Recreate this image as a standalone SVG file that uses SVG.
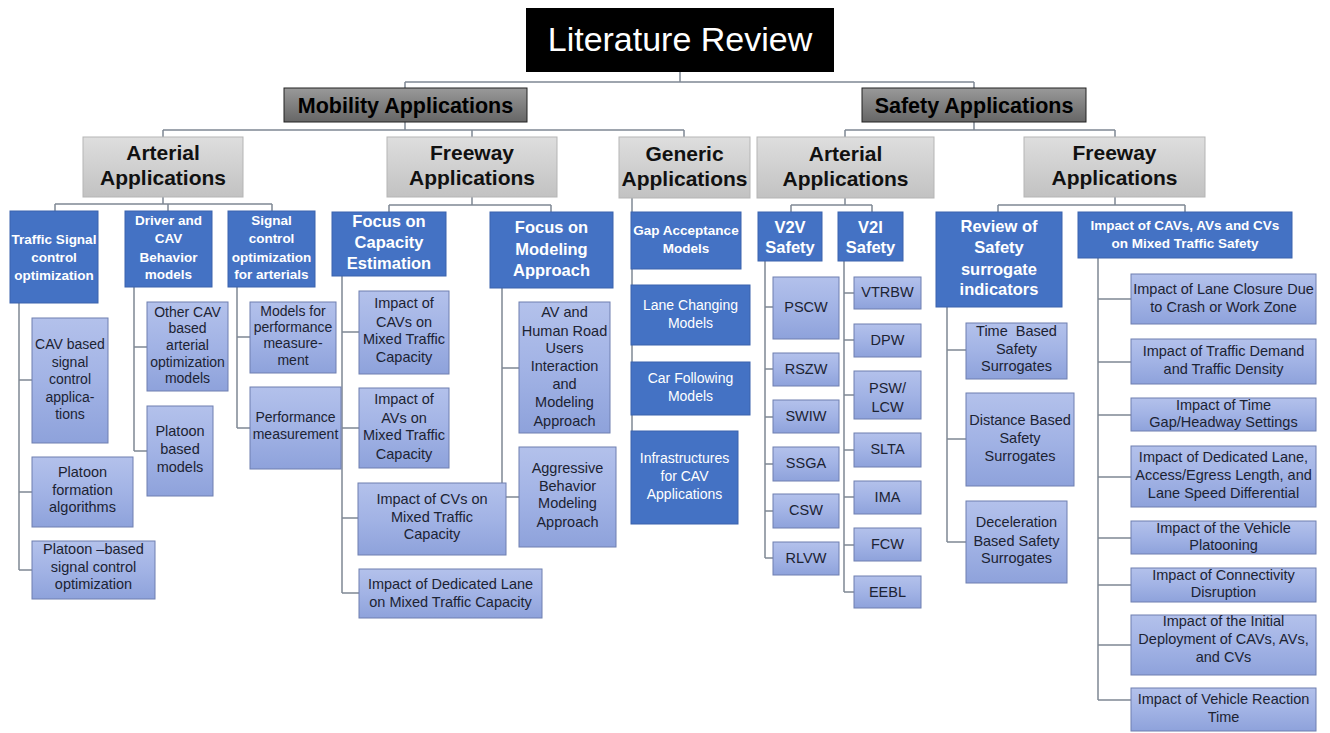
<svg xmlns="http://www.w3.org/2000/svg" width="1330" height="733" viewBox="0 0 1330 733">
<defs>
<linearGradient id="gDark" x1="0" y1="0" x2="0" y2="1"><stop offset="0" stop-color="#999999"/><stop offset="1" stop-color="#666666"/></linearGradient>
<linearGradient id="gLight" x1="0" y1="0" x2="0" y2="1"><stop offset="0" stop-color="#dedede"/><stop offset="1" stop-color="#c2c2c2"/></linearGradient>
<linearGradient id="gBlue" x1="0" y1="0" x2="0" y2="1"><stop offset="0" stop-color="#b3c1eb"/><stop offset="0.5" stop-color="#a2b3e5"/><stop offset="1" stop-color="#8ea2db"/></linearGradient>
</defs>
<style>
text{font-family:"Liberation Sans",Arial,sans-serif;text-anchor:middle}
.l0 rect{fill:#000}
.l0 text{fill:#fff;font-size:34px}
.l1 rect{fill:url(#gDark);stroke:#222;stroke-width:1}
.l1 text{fill:#000;font-size:21.5px;font-weight:bold}
.l2 rect{fill:url(#gLight);stroke:#b5b5b5;stroke-width:1}
.l2 text{fill:#111;font-size:21px;font-weight:bold}
.l3 rect{fill:#4472c4;stroke:#3a63ad;stroke-width:1}
.l3 text{fill:#fff;font-weight:bold;font-size:13.5px}
.l3 text.m{font-size:16.5px}
.l3 text.r{font-weight:normal;font-size:14px}
.l4 rect{fill:url(#gBlue);stroke:#6e7fb0;stroke-width:1}
.l4 text{fill:#1c2333;font-size:14.5px}
.l4 text.s{font-size:14px}
#connectors path{fill:none;stroke:#7f8894;stroke-width:1.5}
</style>
<rect width="1330" height="733" fill="#fff"/>
<g id="connectors">
<path d="M680,72V82M405,82H974M405,82V88M974,82V88"/>
<path d="M405,122V130M163,130H684M163,130V137M472,130V137M684,130V137"/>
<path d="M974,122V130M845,130H1115M845,130V137M1115,130V137"/>
<path d="M163,197V204M55,204H272M55,204V211M168,204V211M272,204V211"/>
<path d="M472,197V205M389,205H551M389,205V212M551,205V212"/>
<path d="M632,198V431"/>
<path d="M845,198V205M791,205H872M791,205V212M872,205V212"/>
<path d="M1115,197V205M998,205H1185M998,205V212M1185,205V212"/>
<path d="M19,303V570M19,380H32M19,492H32M19,570H32"/>
<path d="M134,287V451M134,347H147M134,451H147"/>
<path d="M237,287V428M237,337H250M237,428H250"/>
<path d="M342,276V593M342,332H359M342,428H359M342,518H358M342,593H359"/>
<path d="M502,288V497M502,368H519M502,497H519"/>
<path d="M765,261V558M765,307H773M765,369H773M765,417H773M765,464H773M765,511H773M765,558H773"/>
<path d="M844,261V592M844,293H854M844,340H854M844,395H854M844,450H854M844,497H854M844,545H854M844,592H854"/>
<path d="M947,307V542M947,350H966M947,439H966M947,542H966"/>
<path d="M1098,258V700M1098,299H1131M1098,362H1131M1098,415H1131M1098,477H1131M1098,538H1131M1098,585H1131M1098,645H1131M1098,700H1131"/>
</g>

<g id="n-title" class="l0"><rect x="526" y="8" width="308" height="64"/><text x="680" y="51">Literature Review</text></g>

<g id="n-mobility" class="l1"><rect x="284" y="88" width="243" height="34"/><text x="405.5" y="113">Mobility Applications</text></g>
<g id="n-safety" class="l1"><rect x="862" y="88" width="224" height="34"/><text x="974" y="113">Safety Applications</text></g>

<g id="n-m-arterial" class="l2"><rect x="83" y="137" width="160" height="60"/><text x="163" y="160">Arterial</text><text x="163" y="185">Applications</text></g>
<g id="n-m-freeway" class="l2"><rect x="387" y="137" width="170" height="60"/><text x="472" y="160">Freeway</text><text x="472" y="185">Applications</text></g>
<g id="n-generic" class="l2"><rect x="619" y="137" width="131" height="61"/><text x="684.5" y="161">Generic</text><text x="684.5" y="186">Applications</text></g>
<g id="n-s-arterial" class="l2"><rect x="757" y="137" width="177" height="61"/><text x="845.5" y="161">Arterial</text><text x="845.5" y="186">Applications</text></g>
<g id="n-s-freeway" class="l2"><rect x="1024" y="137" width="181" height="60"/><text x="1114.5" y="160">Freeway</text><text x="1114.5" y="185">Applications</text></g>

<g id="n-tsco" class="l3"><rect x="10" y="211" width="88" height="92"/><text x="54" y="244">Traffic Signal</text><text x="54" y="262">control</text><text x="54" y="280">optimization</text></g>
<g id="n-driver" class="l3"><rect x="125" y="211" width="87" height="76"/><text x="168.5" y="225">Driver and</text><text x="168.5" y="243">CAV</text><text x="168.5" y="262">Behavior</text><text x="168.5" y="279">models</text></g>
<g id="n-signal" class="l3"><rect x="228" y="211" width="87" height="76"/><text x="271.5" y="225">Signal</text><text x="271.5" y="243">control</text><text x="271.5" y="262">optimization</text><text x="271.5" y="279">for arterials</text></g>
<g id="n-capacity" class="l3"><rect x="332" y="212" width="114" height="64"/><text class="m" x="389" y="227">Focus on</text><text class="m" x="389" y="248">Capacity</text><text class="m" x="389" y="269">Estimation</text></g>
<g id="n-modeling" class="l3"><rect x="490" y="212" width="123" height="76"/><text class="m" x="551.5" y="233">Focus on</text><text class="m" x="551.5" y="255">Modeling</text><text class="m" x="551.5" y="276">Approach</text></g>
<g id="n-gap" class="l3"><rect x="631" y="212" width="110" height="57"/><text x="686" y="235">Gap Acceptance</text><text x="686" y="253">Models</text></g>
<g id="n-lane" class="l3"><rect x="631" y="285" width="119" height="60"/><text class="r" x="690.5" y="310">Lane Changing</text><text class="r" x="690.5" y="328">Models</text></g>
<g id="n-car" class="l3"><rect x="631" y="362" width="119" height="53"/><text class="r" x="690.5" y="383">Car Following</text><text class="r" x="690.5" y="401">Models</text></g>
<g id="n-infra" class="l3"><rect x="631" y="431" width="107" height="93"/><text class="r" x="684.5" y="463">Infrastructures</text><text class="r" x="684.5" y="481">for CAV</text><text class="r" x="684.5" y="499">Applications</text></g>
<g id="n-v2v" class="l3"><rect x="758" y="212" width="64" height="49"/><text class="m" x="790" y="233">V2V</text><text class="m" x="790" y="253">Safety</text></g>
<g id="n-v2i" class="l3"><rect x="838" y="212" width="65" height="49"/><text class="m" x="870.5" y="233">V2I</text><text class="m" x="870.5" y="253">Safety</text></g>
<g id="n-review" class="l3"><rect x="936" y="212" width="126" height="95"/><text class="m" x="999" y="232">Review of</text><text class="m" x="999" y="253">Safety</text><text class="m" x="999" y="275">surrogate</text><text class="m" x="999" y="295">indicators</text></g>
<g id="n-impact" class="l3"><rect x="1078" y="212" width="214" height="46"/><text x="1185" y="230">Impact of CAVs, AVs and CVs</text><text x="1185" y="248">on Mixed Traffic Safety</text></g>

<g id="n-cav-signal" class="l4"><rect x="32" y="318" width="76" height="125"/><text class="s" x="70" y="349">CAV based</text><text class="s" x="70" y="367">signal</text><text class="s" x="70" y="384">control</text><text class="s" x="70" y="402">applica-</text><text class="s" x="70" y="419">tions</text></g>
<g id="n-platoon-form" class="l4"><rect x="32" y="457" width="101" height="70"/><text x="82.5" y="477">Platoon</text><text x="82.5" y="495">formation</text><text x="82.5" y="512">algorithms</text></g>
<g id="n-platoon-signal" class="l4"><rect x="32" y="541" width="123" height="58"/><text x="93.5" y="554">Platoon –based</text><text x="93.5" y="572">signal control</text><text x="93.5" y="589">optimization</text></g>
<g id="n-other-cav" class="l4"><rect x="147" y="302" width="81" height="89"/><text class="s" x="187.5" y="317">Other CAV</text><text class="s" x="187.5" y="333">based</text><text class="s" x="187.5" y="350">arterial</text><text class="s" x="187.5" y="367">optimization</text><text class="s" x="187.5" y="383">models</text></g>
<g id="n-platoon-models" class="l4"><rect x="147" y="406" width="66" height="90"/><text x="180" y="436">Platoon</text><text x="180" y="454">based</text><text x="180" y="472">models</text></g>
<g id="n-models-perf" class="l4"><rect x="250" y="302" width="86" height="71"/><text class="s" x="293" y="316">Models for</text><text class="s" x="293" y="332">performance</text><text class="s" x="293" y="348">measure-</text><text class="s" x="293" y="365">ment</text></g>
<g id="n-perf" class="l4"><rect x="250" y="387" width="91" height="82"/><text class="s" x="295.5" y="422">Performance</text><text class="s" x="295.5" y="439">measurement</text></g>
<g id="n-imp-cavs" class="l4"><rect x="359" y="291" width="90" height="83"/><text x="404" y="308">Impact of</text><text x="404" y="327">CAVs on</text><text x="404" y="344">Mixed Traffic</text><text x="404" y="362">Capacity</text></g>
<g id="n-imp-avs" class="l4"><rect x="359" y="388" width="90" height="80"/><text x="404" y="404">Impact of</text><text x="404" y="423">AVs on</text><text x="404" y="440">Mixed Traffic</text><text x="404" y="459">Capacity</text></g>
<g id="n-imp-cvs" class="l4"><rect x="358" y="483" width="148" height="72"/><text x="432" y="504">Impact of CVs on</text><text x="432" y="522">Mixed Traffic</text><text x="432" y="539">Capacity</text></g>
<g id="n-imp-ded" class="l4"><rect x="359" y="569" width="183" height="49"/><text x="450.5" y="589">Impact of Dedicated Lane</text><text x="450.5" y="607">on Mixed Traffic Capacity</text></g>
<g id="n-av-human" class="l4"><rect x="519" y="302" width="91" height="131"/><text x="564.5" y="317">AV and</text><text x="564.5" y="336">Human Road</text><text x="564.5" y="353">Users</text><text x="564.5" y="371">Interaction</text><text x="564.5" y="389">and</text><text x="564.5" y="407">Modeling</text><text x="564.5" y="426">Approach</text></g>
<g id="n-aggressive" class="l4"><rect x="519" y="447" width="97" height="100"/><text x="567.5" y="473">Aggressive</text><text x="567.5" y="491">Behavior</text><text x="567.5" y="508">Modeling</text><text x="567.5" y="527">Approach</text></g>

<g id="n-pscw" class="l4"><rect x="773" y="277" width="66" height="62"/><text x="806" y="312">PSCW</text></g>
<g id="n-rszw" class="l4"><rect x="773" y="353" width="66" height="33"/><text x="806" y="374">RSZW</text></g>
<g id="n-swiw" class="l4"><rect x="773" y="400" width="66" height="33"/><text x="806" y="421">SWIW</text></g>
<g id="n-ssga" class="l4"><rect x="773" y="447" width="66" height="34"/><text x="806" y="468">SSGA</text></g>
<g id="n-csw" class="l4"><rect x="773" y="494" width="66" height="34"/><text x="806" y="515">CSW</text></g>
<g id="n-rlvw" class="l4"><rect x="773" y="542" width="66" height="33"/><text x="806" y="563">RLVW</text></g>

<g id="n-vtrbw" class="l4"><rect x="854" y="277" width="67" height="32"/><text x="887.5" y="297">VTRBW</text></g>
<g id="n-dpw" class="l4"><rect x="854" y="324" width="67" height="33"/><text x="887.5" y="345">DPW</text></g>
<g id="n-psw" class="l4"><rect x="854" y="371" width="67" height="48"/><text x="887.5" y="393">PSW/</text><text x="887.5" y="412">LCW</text></g>
<g id="n-slta" class="l4"><rect x="854" y="433" width="67" height="34"/><text x="887.5" y="454">SLTA</text></g>
<g id="n-ima" class="l4"><rect x="854" y="481" width="67" height="33"/><text x="887.5" y="502">IMA</text></g>
<g id="n-fcw" class="l4"><rect x="854" y="528" width="67" height="33"/><text x="887.5" y="549">FCW</text></g>
<g id="n-eebl" class="l4"><rect x="854" y="576" width="67" height="32"/><text x="887.5" y="597">EEBL</text></g>

<g id="n-time" class="l4"><rect x="966" y="323" width="101" height="56"/><text x="1016.5" y="336" xml:space="preserve">Time  Based</text><text x="1016.5" y="354">Safety</text><text x="1016.5" y="371">Surrogates</text></g>
<g id="n-distance" class="l4"><rect x="966" y="393" width="108" height="93"/><text x="1020" y="425">Distance Based</text><text x="1020" y="443">Safety</text><text x="1020" y="461">Surrogates</text></g>
<g id="n-decel" class="l4"><rect x="966" y="501" width="101" height="82"/><text x="1016.5" y="527">Deceleration</text><text x="1016.5" y="546">Based Safety</text><text x="1016.5" y="563">Surrogates</text></g>

<g id="n-closure" class="l4"><rect x="1131" y="274" width="185" height="50"/><text x="1223.5" y="294">Impact of Lane Closure Due</text><text x="1223.5" y="312">to Crash or Work Zone</text></g>
<g id="n-demand" class="l4"><rect x="1131" y="339" width="185" height="45"/><text x="1223.5" y="356">Impact of Traffic Demand</text><text x="1223.5" y="374">and Traffic Density</text></g>
<g id="n-gap-headway" class="l4"><rect x="1131" y="398" width="185" height="33"/><text x="1223.5" y="410">Impact of Time</text><text x="1223.5" y="427">Gap/Headway Settings</text></g>
<g id="n-ded-lane" class="l4"><rect x="1131" y="446" width="185" height="61"/><text x="1223.5" y="462">Impact of Dedicated Lane,</text><text x="1223.5" y="480">Access/Egress Length, and</text><text x="1223.5" y="498">Lane Speed Differential</text></g>
<g id="n-platooning" class="l4"><rect x="1131" y="521" width="185" height="33"/><text x="1223.5" y="533">Impact of the Vehicle</text><text x="1223.5" y="550">Platooning</text></g>
<g id="n-connectivity" class="l4"><rect x="1131" y="568" width="185" height="34"/><text x="1223.5" y="580">Impact of Connectivity</text><text x="1223.5" y="597">Disruption</text></g>
<g id="n-initial" class="l4"><rect x="1131" y="615" width="185" height="60"/><text x="1223.5" y="626">Impact of the Initial</text><text x="1223.5" y="644">Deployment of CAVs, AVs,</text><text x="1223.5" y="662">and CVs</text></g>
<g id="n-reaction" class="l4"><rect x="1131" y="688" width="185" height="43"/><text x="1223.5" y="704">Impact of Vehicle Reaction</text><text x="1223.5" y="722">Time</text></g>
</svg>
